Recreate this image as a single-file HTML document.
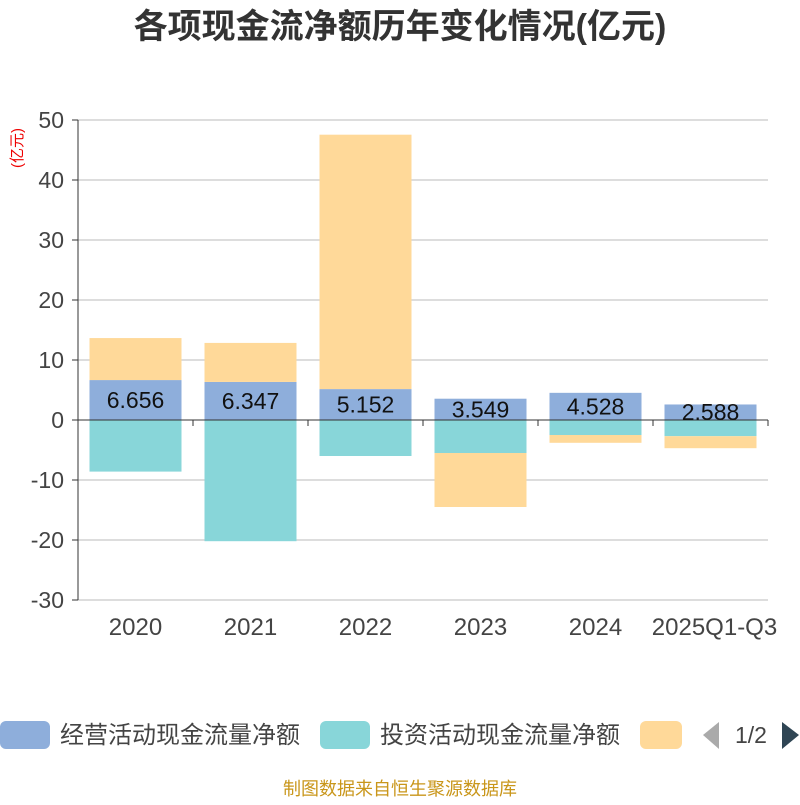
<!DOCTYPE html>
<html><head><meta charset="utf-8"><style>
body{margin:0;background:#fff;font-family:"Liberation Sans","Noto Sans CJK SC",sans-serif;}
</style></head><body>
<svg id="c" width="800" height="800" xmlns="http://www.w3.org/2000/svg" font-family="Liberation Sans, Noto Sans CJK SC, sans-serif">
<text x="400" y="38" text-anchor="middle" font-size="34" font-weight="bold" fill="#333">各项现金流净额历年变化情况(亿元)</text>
<text transform="translate(22,148) rotate(-90)" text-anchor="middle" font-size="15" fill="#e00">(亿元)</text>
<g id="grid"></g><g id="bars"></g><g id="axes"></g>
<g>
<rect x="0" y="721" width="50" height="28" rx="6" fill="#8eaedb"/>
<text x="60" y="743" font-size="24" fill="#444">经营活动现金流量净额</text>
<rect x="320" y="721" width="50" height="28" rx="6" fill="#88d6d9"/>
<text x="380" y="743" font-size="24" fill="#444">投资活动现金流量净额</text>
<rect x="640" y="721" width="42" height="28" rx="6" fill="#ffd999"/>
<polygon points="719,722 719,749 703,735" fill="#aaa"/>
<text x="751" y="743" text-anchor="middle" font-size="23" fill="#444">1/2</text>
<polygon points="782,722 782,749 799,735" fill="#2f4554"/>
</g>
<text x="400" y="795" text-anchor="middle" font-size="18" fill="#c9961a">制图数据来自恒生聚源数据库</text>
</svg>
<script>
const categories=["2020","2021","2022","2023","2024","2025Q1-Q3"];
const operating=[6.656,6.347,5.152,3.549,4.528,2.588];
const investing=[-8.6,-20.2,-6.0,-5.5,-2.5,-2.7];
const financing=[7.0,6.5,42.4,-9.0,-1.3,-2.0];
const yTicks=[50,40,30,20,10,0,-10,-20,-30];
const NS="http://www.w3.org/2000/svg";
const x0=78,x1=768,yTop=120,yBot=600,vMax=50,vMin=-30;
const y=v=>yTop+(vMax-v)*(yBot-yTop)/(vMax-vMin);
const bw=(x1-x0)/categories.length;
const xc=i=>x0+bw*(i+0.5);
function mk(tag,attrs,parent){const e=document.createElementNS(NS,tag);for(const k in attrs)e.setAttribute(k,attrs[k]);document.getElementById(parent).appendChild(e);return e;}
yTicks.forEach(t=>{
 const l=mk('line',{x1:x0,x2:x1,y1:y(t),y2:y(t),stroke:'#bbb','stroke-width':1},'grid');
 
 
 const tk=mk('line',{x1:x0-6,x2:x0,y1:y(t),y2:y(t),stroke:'#333'},'axes');
 
 
 const tx=mk('text',{x:x0-14,y:y(t)+8,'text-anchor':'end','font-size':23,fill:'#444'},'axes');
 tx.textContent=t;
 
 
});
const ax=mk('line',{x1:x0,x2:x0,y1:yTop,y2:yBot,stroke:'#333'},'axes');


const xa=mk('line',{x1:x0,x2:x1,y1:y(0),y2:y(0),stroke:'#333'},'axes');


const barW=92;
categories.forEach((c,i)=>{
 let pos=0,neg=0;
 [[operating,'#8eaedb','bar-operating'],[investing,'#88d6d9','bar-investing'],[financing,'#ffd999','bar-financing']].forEach(([arr,col,nm])=>{
  const v=arr[i];let a,b;
  if(v>=0){a=pos;b=pos+v;pos=b;}else{a=neg;b=neg+v;neg=b;}
  const r=mk('rect',{x:xc(i)-barW/2,width:barW,y:Math.min(y(a),y(b)),height:Math.abs(y(a)-y(b)),fill:col},'bars');
  
  
 });
 const lb=mk('text',{x:xc(i),y:y(operating[i]/2)+8,'text-anchor':'middle','font-size':23,fill:'#111'},'axes');
 lb.textContent=operating[i].toFixed(3);
 
 
 const xt=mk('text',{x:xc(i)+(i==5?4:0),y:635,'text-anchor':'middle','font-size':24,fill:'#444'},'axes');
 xt.textContent=c;
 
 
});
for(let i=0;i<=categories.length;i++){
 const t=mk('line',{x1:x0+bw*i,x2:x0+bw*i,y1:y(0),y2:y(0)+6,stroke:'#333'},'axes');
 
 
}
</script>
</body></html>
